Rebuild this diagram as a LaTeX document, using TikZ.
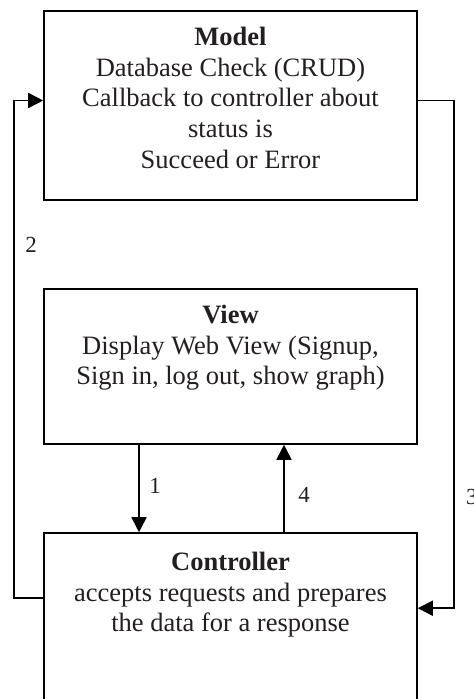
\documentclass[tikz,border=0pt]{standalone}
\usepackage{fontspec}
\setmainfont{Liberation Serif}
\usetikzlibrary{arrows.meta,calc}
\definecolor{textgray}{HTML}{231F20}
\begin{document}
\begin{tikzpicture}[x=1pt,y=-1pt,
  box/.style={draw=black, line width=1.6pt, inner sep=0pt, minimum width=373pt},
  txt/.style={align=center, inner sep=0pt, text=textgray, anchor=north, font=\fontsize{26.5}{30.7}\selectfont},
  lbl/.style={inner sep=0pt, text=textgray, font=\fontsize{23}{27}\selectfont},
  conn/.style={draw=black, line width=1.8pt, -{Triangle[length=15pt,width=15pt]}}
]
\useasboundingbox (0,0) rectangle (474,699);
\clip (0,0) rectangle (474,699);

% boxes
\node[box, minimum height=189pt] (model) at (230.5,105.5) {};
\node[box, minimum height=155pt] (view) at (230.5,366.5) {};
\node[box, minimum height=227pt] (controller) at (230.5,646.5) {};

% texts
\node[txt] (modeltxt) at (230.5,27) {\textbf{Model}\\Database Check (CRUD)\\Callback to controller about\\status is\\Succeed or Error};
\node[txt] (viewtxt) at (230.5,305) {\textbf{View}\\Display Web View (Signup,\\Sign in, log out, show graph)};
\node[txt] (controllertxt) at (230.5,552) {\textbf{Controller}\\accepts requests and prepares\\the data for a response};

% rails
\coordinate (lrail) at (14,0);
\coordinate (rrail) at (454,0);
\coordinate (a1) at (139,0);
\coordinate (a4) at (284,0);
\coordinate (cL) at ($(controller.north west)+(0,66)$);
\coordinate (cR) at ($(controller.north east)+(0,76)$);
\coordinate (mL) at ([yshift=5pt]model.west);
\coordinate (mR) at ([yshift=5pt]model.east);

% connectors
\draw[conn] (cL) -- (cL -| lrail) |- (mL);
\draw[conn] (mR) -- (mR -| rrail) |- (cR);
\draw[conn] (view.south -| a1) -- (controller.north -| a1);
\draw[conn] (controller.north -| a4) -- (view.south -| a4);

% labels
\node[lbl] (l1) at (155,486) {1};
\node[lbl] (l2) at (31,245) {2};
\node[lbl, anchor=west] (l3) at (466,497) {3};
\node[lbl] (l4) at (304,495) {4};
\end{tikzpicture}
\end{document}
